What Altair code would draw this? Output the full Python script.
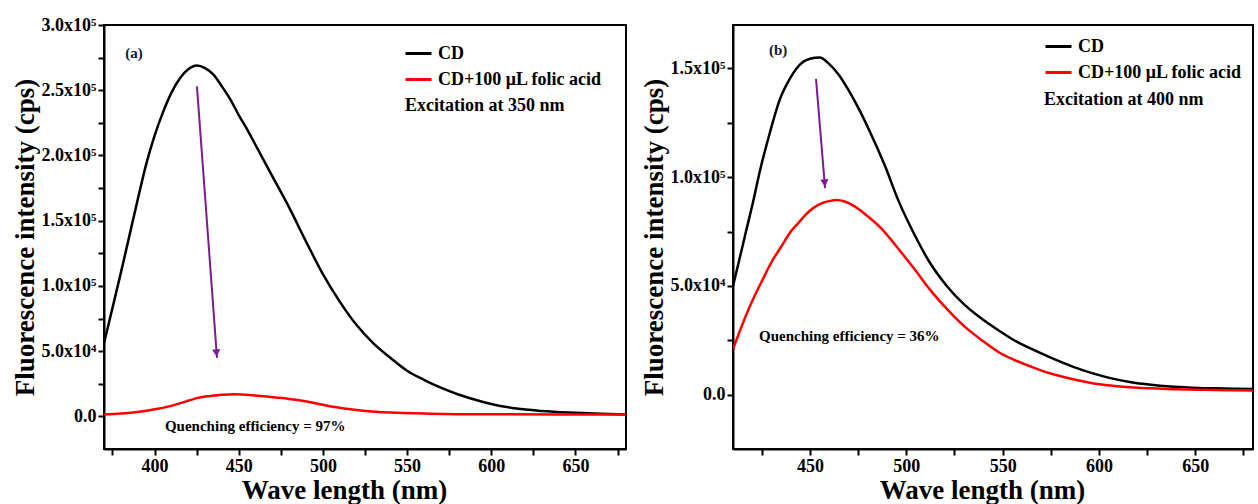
import altair as alt
import pandas as pd

FONT = "Liberation Serif"
SERIES = ["CD", "CD+100 \u03bcL folic acid"]
COLORS = ["#000000", "#ff0000"]
PURPLE = "#7d1a8f"

# ---------------- Panel (a): excitation 350 nm ----------------
a_cd_wl = [370, 375, 380, 385, 390, 395, 400, 405, 410, 415, 420, 425, 430, 435, 440, 445,
           450, 455, 460, 470, 480, 490, 500, 510, 520, 530, 540, 550, 560, 570, 580, 590,
           600, 615, 630, 650, 665, 680]
a_cd_int = [56000, 83000, 110000, 138000, 166000, 193000, 215000, 233000, 248000, 259000, 266000,
            269000, 267000, 262000, 253000, 243000, 231000, 220000, 208000, 184000, 160000,
            134000, 109000, 88000, 70000, 56000, 45000, 35000, 28000, 22000, 17000, 13000, 9500,
            6000, 4200, 2800, 2000, 1500]
a_fa_wl = [370, 380, 390, 400, 408, 415, 420, 425, 432, 440, 447, 452, 458, 465, 472, 480, 485,
           495, 504, 514, 524, 540, 564, 600, 640, 680]
a_fa_int = [1500, 2200, 3300, 5400, 7500, 10000, 12000, 14000, 15500, 16500, 17000, 16800, 16200,
            15400, 14500, 13400, 12500, 10300, 7700, 5800, 4400, 3000, 2100, 1600, 1500, 1400]

# ---------------- Panel (b): excitation 400 nm ----------------
b_cd_wl = [410, 413, 417, 420, 424, 429, 434, 440, 445, 450, 455, 460, 465, 470, 475, 480, 489,
           496, 504, 512, 521, 530, 539, 548, 556, 565, 575, 586, 596, 606, 616, 627, 637, 648,
           660, 670, 680]
b_cd_int = [50000, 61000, 76000, 87000, 103000, 120000, 135000, 146000, 152000, 154500, 155000,
            152000, 147000, 140000, 132000, 123000, 105000, 89000, 74000, 61000, 50000, 41500,
            35000, 29500, 25000, 21000, 17000, 13000, 10000, 7600, 5800, 4500, 3700, 3200, 2900,
            2700, 2600]
b_fa_wl = [410, 413, 417, 421, 426, 430, 435, 440, 444, 448, 452, 456, 460, 464, 468, 472, 475,
           480, 487, 495, 504, 513, 522, 530, 540, 548, 556, 565, 575, 586, 596, 606, 616, 627,
           640, 655, 670, 680]
b_fa_int = [21000, 28000, 37000, 45000, 54000, 61000, 68000, 75000, 79000, 83000, 86000, 88000,
            89000, 89500, 88800, 87200, 85500, 82000, 76500, 68000, 58000, 47500, 38500, 31500,
            24500, 19500, 16000, 12800, 9700, 7200, 5400, 4200, 3400, 2900, 2500, 2200, 2000, 1900]

# ---------------- annotations ----------------
a_arrow = {"wl": [425.2], "v": [253000], "wl2": [437.1], "v2": [44800]}
a_head = {"wl": [436.8], "v": [48600]}
b_arrow = {"wl": [453.1], "v": [145200], "wl2": [457.8], "v2": [95000]}
b_head = {"wl": [457.6], "v": [97300]}

a_texts = {"wl": [387.8], "v": [278500], "t": ["(a)"]}
b_texts = {"wl": [433.4], "v": [158500], "t": ["(b)"]}
a_exc = {"wl": [548.7], "v": [237900], "t": ["Excitation at 350 nm"]}
b_exc = {"wl": [571.5], "v": [135500], "t": ["Excitation at 400 nm"]}
a_q = {"wl": [406.2], "v": [-7400], "t": ["Quenching efficiency = 97%"]}
b_q = {"wl": [423.5], "v": [27000], "t": ["Quenching efficiency = 36%"]}

Y_LABEL = ("datum.value % 50000 !== 0 ? '' : datum.value === 0 ? '0.0' : "
           "datum.value < 100000 ? format(datum.value/10000, '.1f') + 'x10\u2074' : "
           "format(datum.value/100000, '.1f') + 'x10\u2075'")


def spectra(wl1, v1, wl2, v2):
    return pd.DataFrame({
        "wl": wl1 + wl2,
        "v": v1 + v2,
        "series": [SERIES[0]] * len(wl1) + [SERIES[1]] * len(wl2),
    })


def panel(df, xdom, ydom, xticks, yticks, width, height, legend_xy, title_x,
          arrow, head, angle, lab, exc, q):
    xsc = alt.Scale(domain=xdom, nice=False, zero=False)
    ysc = alt.Scale(domain=ydom, nice=False, zero=False)
    xaxis = alt.Axis(
        title="Wave length (nm)", values=xticks, grid=False, ticks=True, tickSize=6,
        labelExpr="datum.value % 50 === 0 ? datum.label : ''",
        titleX=title_x, titlePadding=2,
    )
    yaxis = alt.Axis(
        title="Fluorescence intensity (cps)", values=yticks, grid=False, ticks=True, tickSize=6,
        labelExpr=Y_LABEL, titlePadding=2,
    )

    def X(f="wl"):
        return alt.X(f"{f}:Q", scale=xsc, axis=xaxis)

    def Y(f="v"):
        return alt.Y(f"{f}:Q", scale=ysc, axis=yaxis)

    lines = alt.Chart(df).mark_line(strokeWidth=2.5, interpolate="monotone", clip=True).encode(
        x=X(), y=Y(),
        color=alt.Color("series:N", sort=SERIES,
                        scale=alt.Scale(domain=SERIES, range=COLORS),
                        legend=alt.Legend(
                            title=None, orient="none", legendX=legend_xy[0], legendY=legend_xy[1],
                            symbolType="stroke", symbolSize=676, symbolStrokeWidth=3,
                            labelFont=FONT, labelFontSize=18, labelFontWeight="bold",
                            labelColor="black", rowPadding=2, labelOffset=5, labelLimit=0)),
        order=alt.Order("wl:Q"),
    )
    rule = alt.Chart(pd.DataFrame(arrow)).mark_rule(color=PURPLE, strokeWidth=2).encode(
        x=X(), y=Y(), x2="wl2:Q", y2="v2:Q")
    tip = alt.Chart(pd.DataFrame(head)).mark_point(
        shape="triangle-down", filled=True, color=PURPLE, opacity=1, size=70, angle=angle
    ).encode(x=X(), y=Y())
    label = alt.Chart(pd.DataFrame(lab)).mark_text(
        font=FONT, fontSize=15, fontWeight="bold", color="#141438", align="center", baseline="middle"
    ).encode(x=X(), y=Y(), text="t:N")
    excl = alt.Chart(pd.DataFrame(exc)).mark_text(
        font=FONT, fontSize=18, fontWeight="bold", color="black", align="left", baseline="middle"
    ).encode(x=X(), y=Y(), text="t:N")
    ql = alt.Chart(pd.DataFrame(q)).mark_text(
        font=FONT, fontSize=15, fontWeight="bold", color="black", align="left", baseline="middle"
    ).encode(x=X(), y=Y(), text="t:N")
    return alt.layer(lines, rule, tip, label, excl, ql).properties(width=width, height=height)


df_a = spectra(a_cd_wl, a_cd_int, a_fa_wl, a_fa_int)
df_b = spectra(b_cd_wl, b_cd_int, b_fa_wl, b_fa_int)

pa = panel(df_a, [370, 680], [-25000, 300000],
           [375, 400, 425, 450, 475, 500, 525, 550, 575, 600, 625, 650, 675],
           [0, 25000, 50000, 75000, 100000, 125000, 150000, 175000, 200000, 225000, 250000,
            275000, 300000],
           522, 424, (300, 14), 240, a_arrow, a_head, 355.8, a_texts, a_exc, a_q)
pb = panel(df_b, [410, 680], [-25000, 170000],
           [425, 450, 475, 500, 525, 550, 575, 600, 625, 650, 675],
           [0, 25000, 50000, 75000, 100000, 125000, 150000],
           520, 424, (311, 7), 249, b_arrow, b_head, 355.3, b_texts, b_exc, b_q)

chart = alt.hconcat(pa, pb, spacing=107, bounds="flush").resolve_scale(
    color="independent").resolve_legend(color="independent").properties(
    padding={"left": 10, "top": 15, "right": 0, "bottom": 0}, background="white"
).configure_view(stroke="black", strokeWidth=2).configure_axis(
    domainColor="black", domainWidth=2, tickColor="black", tickWidth=2,
    labelFont=FONT, labelFontSize=18, labelFontWeight="bold", labelColor="black", labelPadding=2,
    titleFont=FONT, titleFontSize=27, titleFontWeight="bold", titleColor="black",
)

chart.save("out.html", embed_options={"renderer": "svg", "actions": False})
